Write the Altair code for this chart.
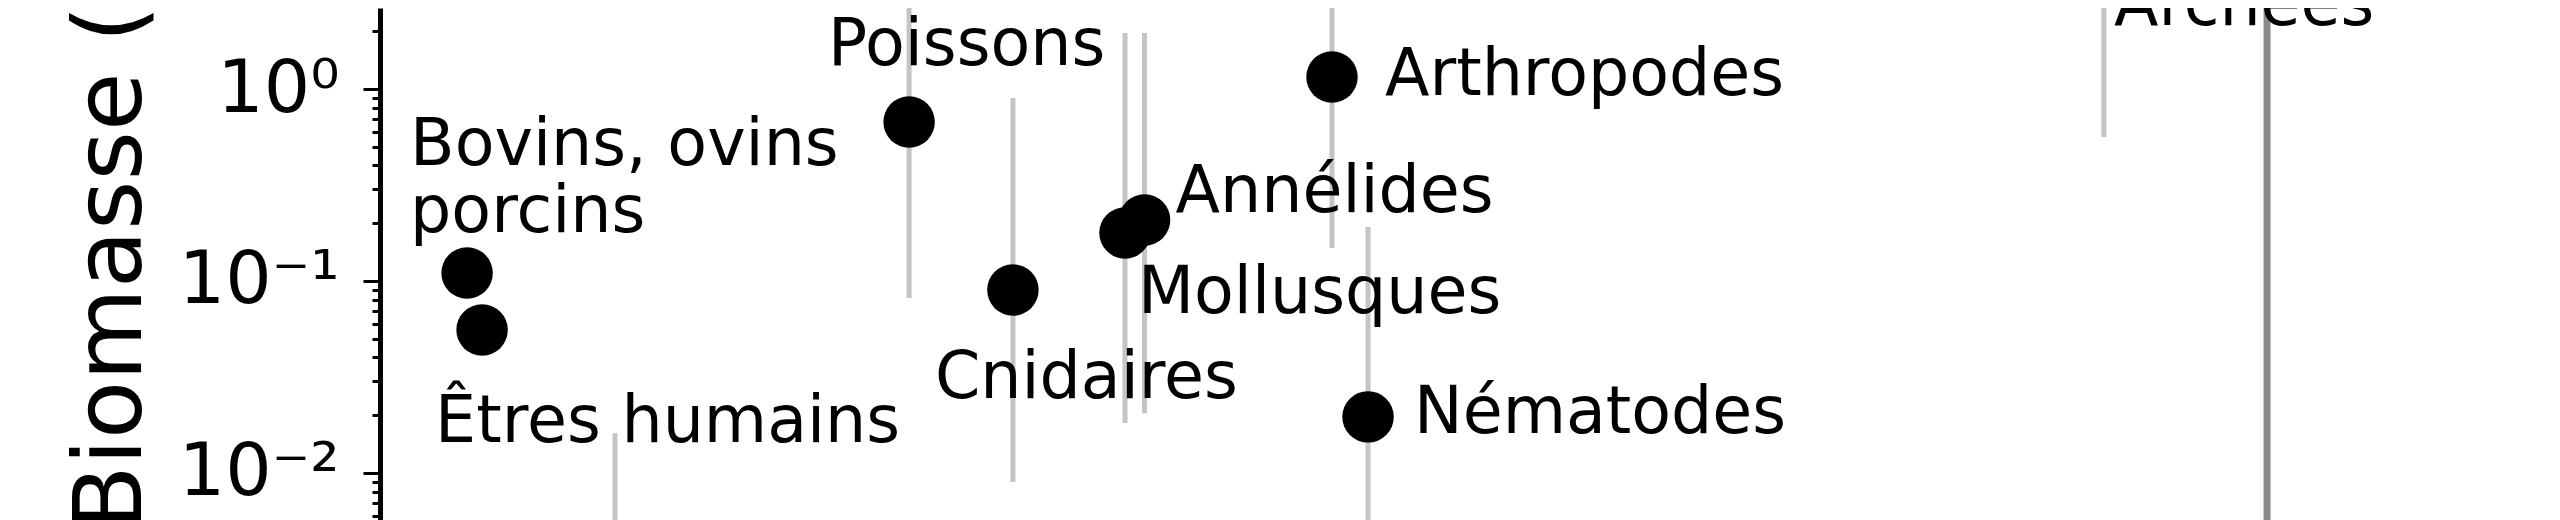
import altair as alt
import pandas as pd

# ---- data ----
groups = ["Bovins, ovins\nporcins", "Êtres humains", "Poissons", "Cnidaires",
          "Mollusques", "Annélides", "Arthropodes", "Nématodes", "Archées"]
group_pos = [4.01, 4.70, 24.36, 29.14, 34.30, 35.20, 43.83, 45.49, 79.37]
biomass = [0.110, 0.0556, 0.673, 0.0898, 0.178, 0.208, 1.155, 0.0196, 7.0]

err_pos = [10.82, 24.36, 29.14, 34.30, 35.20, 43.83, 45.49, 68.55, 79.37]
err_low = [0.001, 0.0815, 0.00898, 0.0182, 0.0205, 0.1485, 0.002, 2.77, 0.562]
err_high = [0.0161, 5.0, 0.898, 1.96, 1.96, 10.0, 0.191, 20.0, 100.0]

divider_pos = [86.88]

major_ticks = [0.01, 0.1, 1]
tick_labels = ["10⁻²", "10⁻¹", "10⁰"]
minor_ticks = [m * 10.0 ** e for e in (-3, -2, -1, 0) for m in range(2, 10)]

# ---- layout (label offsets in px relative to each dot) ----
label_dx = [-57, -47, -81, -78, 13, 31, 53, 46, 10]
label_dy = [-108, 112, -57, 108, 80, -8, 18, 16, 98]

FONT = "DejaVu Sans"

pts = pd.DataFrame({"group": groups, "pos": group_pos, "biomass": biomass})
errs = pd.DataFrame({"pos": err_pos, "low": err_low, "high": err_high})
divs = pd.DataFrame({"pos": divider_pos})

label_expr = " : ".join(
    f"datum.value == {v} ? '{t}'" for v, t in zip(major_ticks, tick_labels)
) + " : ''"
major_test = "indexof([" + ",".join(str(v) for v in major_ticks) + "], datum.value) >= 0"

yscale = alt.Scale(type="log", domain=[0.005690, 2.6418], nice=False)
xscale = alt.Scale(domain=[0, 100], nice=False, zero=False)

yaxis = alt.Axis(
    values=sorted(major_ticks + minor_ticks),
    labelExpr=label_expr,
    tickSize={"condition": {"test": major_test, "value": 17}, "value": 8},
    tickWidth=3,
    tickColor="black",
    domainColor="black",
    domainWidth=5,
    grid=False,
    labelFont=FONT,
    labelFontSize=73,
    labelColor="black",
    labelPadding=24,
    labelOverlap=False,
    labelFlush=False,
    labelBound=False,
    title="Biomasse (Gt C)",
    titleFont=FONT,
    titleFontSize=95,
    titleFontWeight="normal",
    titleColor="black",
    titleAngle=270,
    titleAlign="left",
    titleBaseline="alphabetic",
    titleX=-240,
    titleY=522,
)

base_y = alt.Y("biomass:Q", scale=yscale, axis=yaxis)

bars = alt.Chart(errs).mark_rule(color="#c4c4c4", strokeWidth=5).encode(
    x=alt.X("pos:Q", scale=xscale, axis=None),
    y=alt.Y("low:Q", scale=yscale, axis=yaxis),
    y2="high:Q",
)

divider = alt.Chart(divs).mark_rule(color="#8a8a8a", strokeWidth=7).encode(
    x=alt.X("pos:Q", scale=xscale, axis=None),
)

dots = alt.Chart(pts).mark_circle(color="black", opacity=1, size=2650).encode(
    x=alt.X("pos:Q", scale=xscale, axis=None),
    y=base_y,
)

layers = [bars, divider, dots]
for g, dx, dy in zip(groups, label_dx, label_dy):
    layers.append(
        alt.Chart(pts[pts["group"] == g]).mark_text(
            align="left", baseline="alphabetic", dx=dx, dy=dy,
            font=FONT, fontSize=65, color="black",
            lineBreak="\n", lineHeight=67,
        ).encode(
            x=alt.X("pos:Q", scale=xscale, axis=None),
            y=base_y,
            text="group:N",
        )
    )

chart = alt.layer(*layers).properties(
    width=2172,
    height=512,
    autosize=alt.AutoSizeParams(type="none"),
    padding={"left": 372, "top": 0, "right": 0, "bottom": 0},
    background="white",
).configure_view(stroke=None)

chart.save("out.html", embed_options={"renderer": "svg", "actions": False})
